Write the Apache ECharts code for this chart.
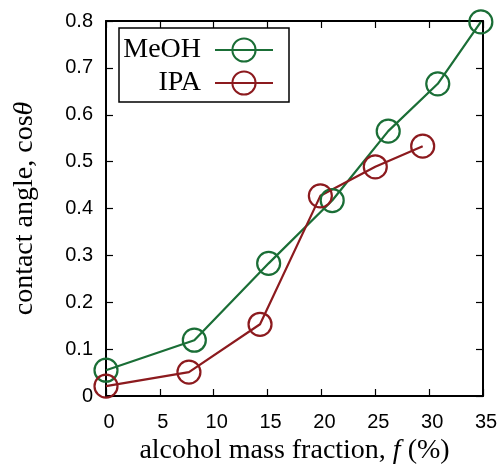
<!DOCTYPE html>
<html>
<head>
<meta charset="utf-8">
<script src="https://cdn.jsdelivr.net/npm/echarts@6/dist/echarts.min.js"></script>
<style>
  html, body { margin: 0; padding: 0; background: #fff; }
  #chart { width: 498px; height: 464px; }
</style>
</head>
<body>
<div id="chart"></div>
<script>
// Contact angle (cos θ) versus alcohol mass fraction f (%)
const meohFraction = [0, 8.2, 15.1, 21.0, 26.2, 30.8, 34.8];
const meohCos = [0.055, 0.119, 0.283, 0.417, 0.565, 0.666, 0.798];
const ipaFraction = [0, 7.7, 14.3, 19.9, 25.0, 29.4];
const ipaCos = [0.021, 0.051, 0.153, 0.427, 0.489, 0.533];
const seriesNames = ['MeOH', 'IPA'];

const green = '#1a6e36';
const red = '#8c1a1e';
const serif = '"Liberation Serif", "DejaVu Serif", serif';
const sans = '"Liberation Sans", Arial, sans-serif';

function pairs(xs, ys) { return xs.map((x, i) => [x, ys[i]]); }

const chart = echarts.init(document.getElementById('chart'), null, { renderer: 'canvas' });

// fresh objects for every axis so nothing is shared between components
function axisLine() { return { show: true, onZero: false, lineStyle: { color: '#000', width: 2 } }; }
function ticksIn() { return { show: true, inside: true, length: 7, lineStyle: { color: '#000', width: 1.2 } }; }

function lineSeries(name, data, color) {
  return {
    name: name,
    type: 'line',
    data: data,
    symbol: 'circle',
    symbolSize: 23,
    lineStyle: { color: color, width: 2.2 },
    itemStyle: { color: 'rgba(0,0,0,0)', borderColor: color, borderWidth: 2.2 },
    emphasis: { disabled: true },
    clip: false
  };
}

function legendFor(name, top) {
  return {
    data: [name],
    orient: 'vertical',
    align: 'right',
    right: 224,
    top: top,
    padding: 0,
    itemWidth: 58,
    itemHeight: 29,
    selectedMode: false,
    textStyle: { fontFamily: serif, fontSize: 28, color: '#000', padding: [0, 9, 0, 0] }
  };
}

function titleRich() {
  return {
    t: { fontFamily: serif, fontSize: 28, color: '#000' },
    i: { fontFamily: serif, fontSize: 28, fontStyle: 'italic', color: '#000' }
  };
}

chart.setOption({
  animation: false,
  backgroundColor: '#fff',
  // fixed plot rectangle; labels are allowed to reach the canvas edge
  grid: { left: 106, right: 15, top: 21, bottom: 68, outerBoundsMode: 'none', containLabel: false },
  legend: [legendFor(seriesNames[0], 36), legendFor(seriesNames[1], 69)],
  graphic: [{
    type: 'rect',
    shape: { x: 119, y: 28, width: 170, height: 74 },
    style: { fill: 'none', stroke: '#000', lineWidth: 1.5 },
    z: 10
  }],
  xAxis: [{
    type: 'value', min: 0, max: 35, interval: 5,
    name: '{t|alcohol mass fraction, }{i|f}{t| (%)}',
    nameLocation: 'middle', nameGap: 41,
    nameTextStyle: { rich: titleRich() },
    axisLine: axisLine(), axisTick: ticksIn(),
    axisLabel: { fontFamily: sans, fontSize: 20, color: '#000', margin: 16, padding: [0, 0, 0, 6] },
    splitLine: { show: false }
  }, {
    type: 'value', position: 'top', min: 0, max: 35, interval: 5,
    axisLine: axisLine(), axisTick: ticksIn(),
    axisLabel: { show: false }, splitLine: { show: false }
  }],
  yAxis: [{
    type: 'value', min: 0, max: 0.8, interval: 0.1,
    name: '{t|contact angle, cos}{i|θ}',
    nameLocation: 'middle', nameGap: 67,
    nameTextStyle: { rich: titleRich() },
    axisLine: axisLine(), axisTick: ticksIn(),
    axisLabel: { fontFamily: sans, fontSize: 20, color: '#000', margin: 13 },
    splitLine: { show: false }
  }, {
    type: 'value', position: 'right', min: 0, max: 0.8, interval: 0.1,
    axisLine: axisLine(), axisTick: ticksIn(),
    axisLabel: { show: false }, splitLine: { show: false }
  }],
  series: [
    lineSeries(seriesNames[0], pairs(meohFraction, meohCos), green),
    lineSeries(seriesNames[1], pairs(ipaFraction, ipaCos), red)
  ]
});
</script>
</body>
</html>
